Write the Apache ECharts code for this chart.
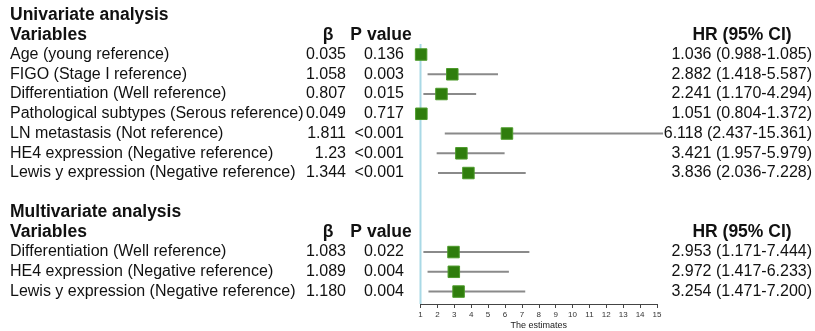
<!DOCTYPE html>
<html>
<head>
<meta charset="utf-8">
<script src="https://cdn.jsdelivr.net/npm/echarts@6/dist/echarts.min.js"></script>
<style>html,body{margin:0;padding:0;background:#fff}#c{width:815px;height:331px}</style>
</head>
<body>
<div id="c"></div>
<script>
const uniVars = ['Age (young reference)','FIGO (Stage I reference)','Differentiation (Well reference)','Pathological subtypes (Serous reference)','LN metastasis (Not reference)','HE4 expression (Negative reference)','Lewis y expression (Negative reference)'];
const uniBeta = ['0.035','1.058','0.807','0.049','1.811','1.23','1.344'];
const uniP = ['0.136','0.003','0.015','0.717','<0.001','<0.001','<0.001'];
const uniHR = [1.036, 2.882, 2.241, 1.051, 6.118, 3.421, 3.836];
const uniLow = [0.988, 1.418, 1.170, 0.804, 2.437, 1.957, 2.036];
const uniHigh = [1.085, 5.587, 4.294, 1.372, 15.361, 5.979, 7.228];

const multiVars = ['Differentiation (Well reference)','HE4 expression (Negative reference)','Lewis y expression (Negative reference)'];
const multiBeta = ['1.083','1.089','1.180'];
const multiP = ['0.022','0.004','0.004'];
const multiHR = [2.953, 2.972, 3.254];
const multiLow = [1.171, 1.417, 1.471];
const multiHigh = [7.444, 6.233, 7.200];

const xTicks = [1,2,3,4,5,6,7,8,9,10,11,12,13,14,15];
const headers = { uni: 'Univariate analysis', multi: 'Multivariate analysis', vars: 'Variables', beta: 'β', p: 'P value', hr: 'HR (95% CI)' };

// row layout
const uniStart = 2, multiStart = 12;
const f3 = v => v.toFixed(3);

const cells = [];
const pts = [], ci = [];
function addHeader(row, title) {
  cells.push({ row: row, text: title, x: 10, align: 'left', bold: true });
  cells.push({ row: row + 1, text: headers.vars, x: 10, align: 'left', bold: true });
  cells.push({ row: row + 1, text: headers.beta, x: 328, align: 'center', bold: true });
  cells.push({ row: row + 1, text: headers.p, x: 381, align: 'center', bold: true });
  cells.push({ row: row + 1, text: headers.hr, x: 742, align: 'center', bold: true });
}
function addBlock(start, vars, beta, p, hr, lo, hi) {
  vars.forEach((v, i) => {
    const r = start + i;
    cells.push({ row: r, text: v, x: 10, align: 'left' });
    cells.push({ row: r, text: beta[i], x: 346, align: 'right' });
    cells.push({ row: r, text: p[i], x: 404, align: 'right' });
    cells.push({ row: r, text: f3(hr[i]) + ' (' + f3(lo[i]) + '-' + f3(hi[i]) + ')', x: 812, align: 'right' });
    pts.push([hr[i], r]);
    ci.push([lo[i], hi[i], r]);
  });
}
addHeader(0, headers.uni);
addBlock(uniStart, uniVars, uniBeta, uniP, uniHR, uniLow, uniHigh);
addHeader(10, headers.multi);
addBlock(multiStart, multiVars, multiBeta, multiP, multiHR, multiLow, multiHigh);

const chart = echarts.init(document.getElementById('c'), null, { renderer: 'canvas' });
const FONT = '"Liberation Sans", Arial, Helvetica, sans-serif';
chart.setOption({
  animation: false,
  backgroundColor: '#fff',
  grid: { left: 420.5, right: 158, top: 0, bottom: 27, containLabel: false, outerBoundsMode: 'none' },
  xAxis: {
    type: 'value', min: 1, max: 15, interval: 1, position: 'bottom',
    axisLine: { onZero: false, lineStyle: { color: '#444', width: 1 } },
    axisTick: { show: true, length: 4, lineStyle: { color: '#444' } },
    splitLine: { show: false },
    axisLabel: { fontSize: 8, color: '#333', margin: 7, fontFamily: FONT,
      formatter: v => xTicks.indexOf(v) >= 0 ? String(v) : '' },
    name: 'The estimates', nameLocation: 'middle', nameGap: 17, nameMoveOverlap: false,
    nameTextStyle: { fontSize: 9, color: '#222', fontFamily: FONT, verticalAlign: 'top' }
  },
  yAxis: { type: 'value', inverse: true, min: -0.76, max: 14.63, show: false },
  series: [
    {
      type: 'line', data: [[1, 1.47], [1, 14.63]], symbol: 'none', silent: true,
      lineStyle: { color: '#a9d9e6', width: 2 }, z: 1
    },
    {
      type: 'custom', clip: false, silent: true, z: 2,
      data: ci,
      renderItem: function (params, api) {
        const a = api.coord([api.value(0), api.value(2)]);
        const b = api.coord([api.value(1), api.value(2)]);
        return { type: 'line', shape: { x1: a[0], y1: a[1], x2: b[0], y2: b[1] },
          style: { stroke: '#8a8a8a', lineWidth: 2 } };
      }
    },
    {
      type: 'scatter', data: pts, symbol: 'rect', symbolSize: 11.5, z: 3, silent: true,
      itemStyle: { color: '#2f7d0d', borderColor: '#4c9a2a', borderWidth: 1, opacity: 1 }
    },
    {
      type: 'custom', clip: false, silent: true, z: 4,
      data: cells.map(c => [1, c.row]),
      renderItem: function (params, api) {
        const c = cells[params.dataIndex];
        const y = api.coord([1, api.value(1)])[1];
        return { type: 'text', x: c.x, y: y,
          style: { text: c.text, textAlign: c.align, textVerticalAlign: 'middle',
            fill: '#111', font: (c.bold ? 'bold 17.5px ' : '16px ') + FONT } };
      }
    }
  ]
});
</script>
</body>
</html>
